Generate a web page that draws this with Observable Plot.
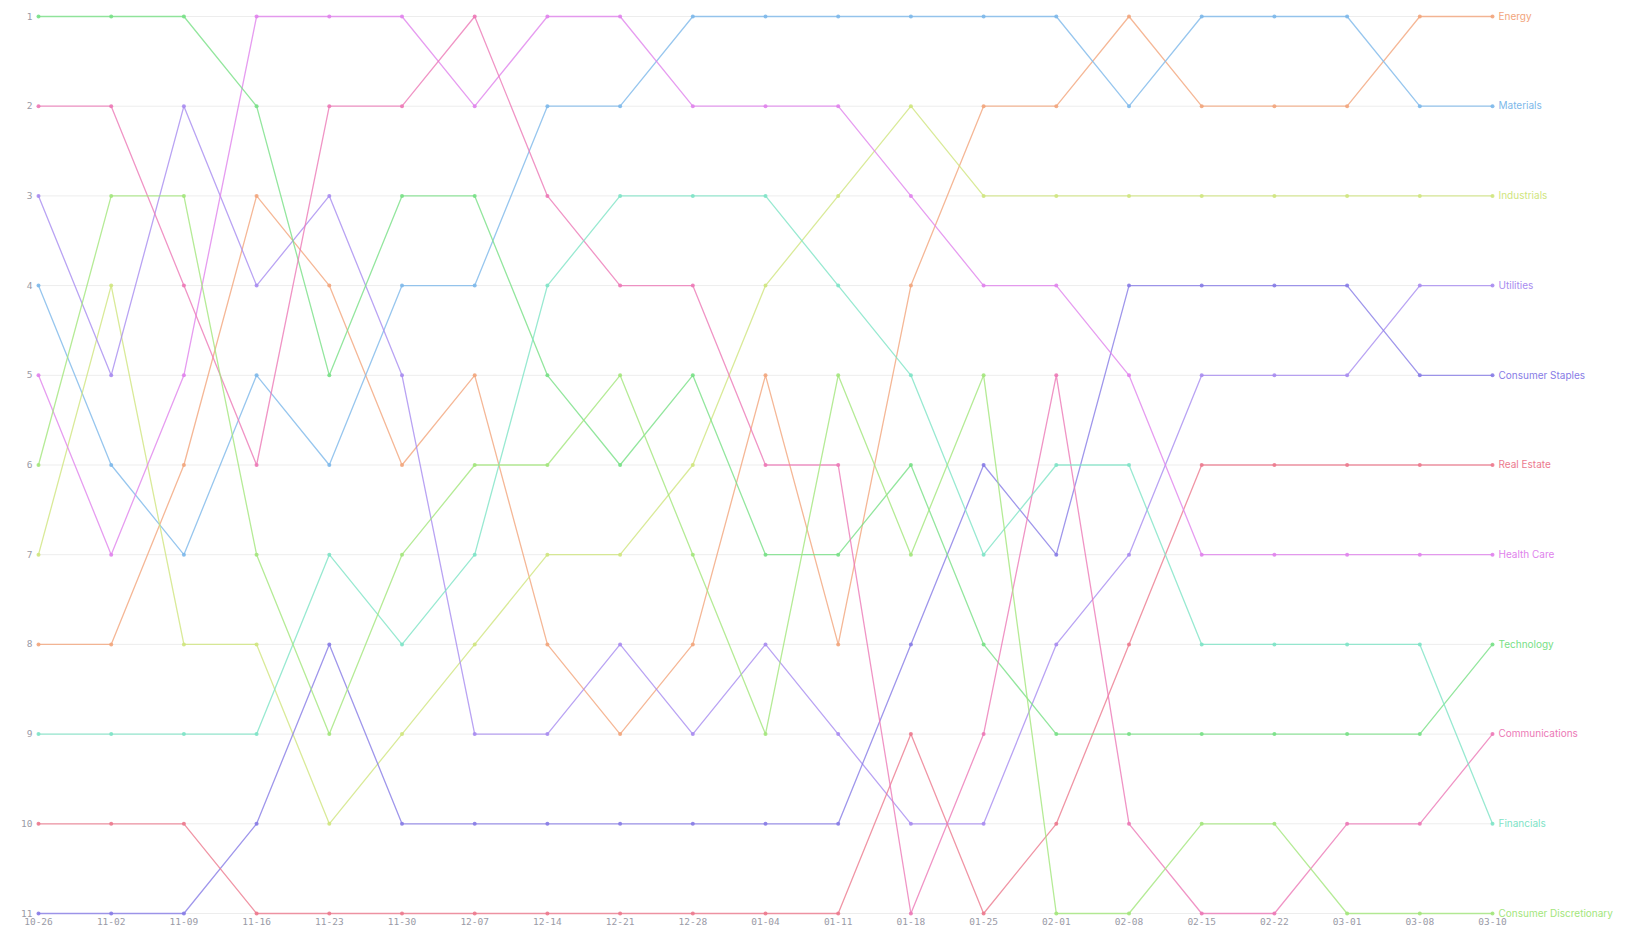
<!DOCTYPE html>
<html>
<head>
<meta charset="utf-8">
<script src="https://cdn.jsdelivr.net/npm/d3@7"></script>
<script src="https://cdn.jsdelivr.net/npm/@observablehq/plot@0.6"></script>
<style>
  html, body { margin: 0; padding: 0; background: #fff; overflow: hidden; }
  #chart svg { display: block; max-width: none; }
</style>
</head>
<body>
<div id="chart"></div>
<script>
const dates = ["10-26","11-02","11-09","11-16","11-23","11-30","12-07","12-14","12-21","12-28","01-04","01-11","01-18","01-25","02-01","02-08","02-15","02-22","03-01","03-08","03-10"];

const sectors = ["Energy","Materials","Industrials","Utilities","Consumer Staples","Real Estate","Health Care","Technology","Communications","Financials","Consumer Discretionary"];

const sectorColors = ["#f2a57c","#7db8ea","#cfe57e","#a88cf0","#877ce6","#ec7a8e","#e083ec","#78e086","#ec79b6","#7ee3c6","#a3e67c"];

const energy        = [8,8,6,3,4,6,5,8,9,8,5,8,4,2,2,1,2,2,2,1,1];
const materials     = [4,6,7,5,6,4,4,2,2,1,1,1,1,1,1,2,1,1,1,2,2];
const industrials   = [7,4,8,8,10,9,8,7,7,6,4,3,2,3,3,3,3,3,3,3,3];
const utilities     = [3,5,2,4,3,5,9,9,8,9,8,9,10,10,8,7,5,5,5,4,4];
const staples       = [11,11,11,10,8,10,10,10,10,10,10,10,8,6,7,4,4,4,4,5,5];
const realEstate    = [10,10,10,11,11,11,11,11,11,11,11,11,9,11,10,8,6,6,6,6,6];
const healthCare    = [5,7,5,1,1,1,2,1,1,2,2,2,3,4,4,5,7,7,7,7,7];
const technology    = [1,1,1,2,5,3,3,5,6,5,7,7,6,8,9,9,9,9,9,9,8];
const communications= [2,2,4,6,2,2,1,3,4,4,6,6,11,9,5,10,11,11,10,10,9];
const financials    = [9,9,9,9,7,8,7,4,3,3,3,4,5,7,6,6,8,8,8,8,10];
const discretionary = [6,3,3,7,9,7,6,6,5,7,9,5,7,5,11,11,10,10,11,11,11];

const rankTicks = [1,2,3,4,5,6,7,8,9,10,11];

const series = [energy, materials, industrials, utilities, staples, realEstate, healthCare, technology, communications, financials, discretionary];

const rows = [];
sectors.forEach((s, i) => {
  series[i].forEach((r, j) => rows.push({sector: s, date: dates[j], rank: r}));
});

const mono = "'DejaVu Sans Mono', monospace";

const chart = Plot.plot({
  width: 1632,
  height: 940,
  marginTop: 16,
  marginBottom: 27,
  marginLeft: 38,
  marginRight: 140,
  style: { background: "#fff" },
  x: { type: "point", domain: dates, label: null, padding: 0, round: false },
  y: { domain: [1, 11], reverse: true, label: null },
  color: { domain: sectors, range: sectorColors },
  marks: [
    Plot.gridY(rankTicks, { stroke: "#ededed", strokeOpacity: 1 }),
    Plot.axisX({ tickSize: 0, tickPadding: 5, fontFamily: mono, fontSize: 9.5, fill: "#9a9aa6", label: null }),
    Plot.axisY(rankTicks, { tickSize: 0, tickPadding: 6, fontFamily: mono, fontSize: 9.5, fill: "#9a9aa6", label: null, tickFormat: d => String(d) }),
    Plot.line(rows, { x: "date", y: "rank", z: "sector", stroke: "sector", strokeWidth: 1.3, strokeOpacity: 0.8 }),
    Plot.dot(rows, { x: "date", y: "rank", fill: "sector", r: 2, fillOpacity: 0.9 }),
    Plot.text(rows, Plot.selectLast({ x: "date", y: "rank", z: "sector", text: "sector", fill: "sector", dx: 6, textAnchor: "start", fontFamily: "Inter, 'Noto Sans', sans-serif", fontSize: 10 }))
  ]
});

document.getElementById("chart").appendChild(chart);
</script>
</body>
</html>
